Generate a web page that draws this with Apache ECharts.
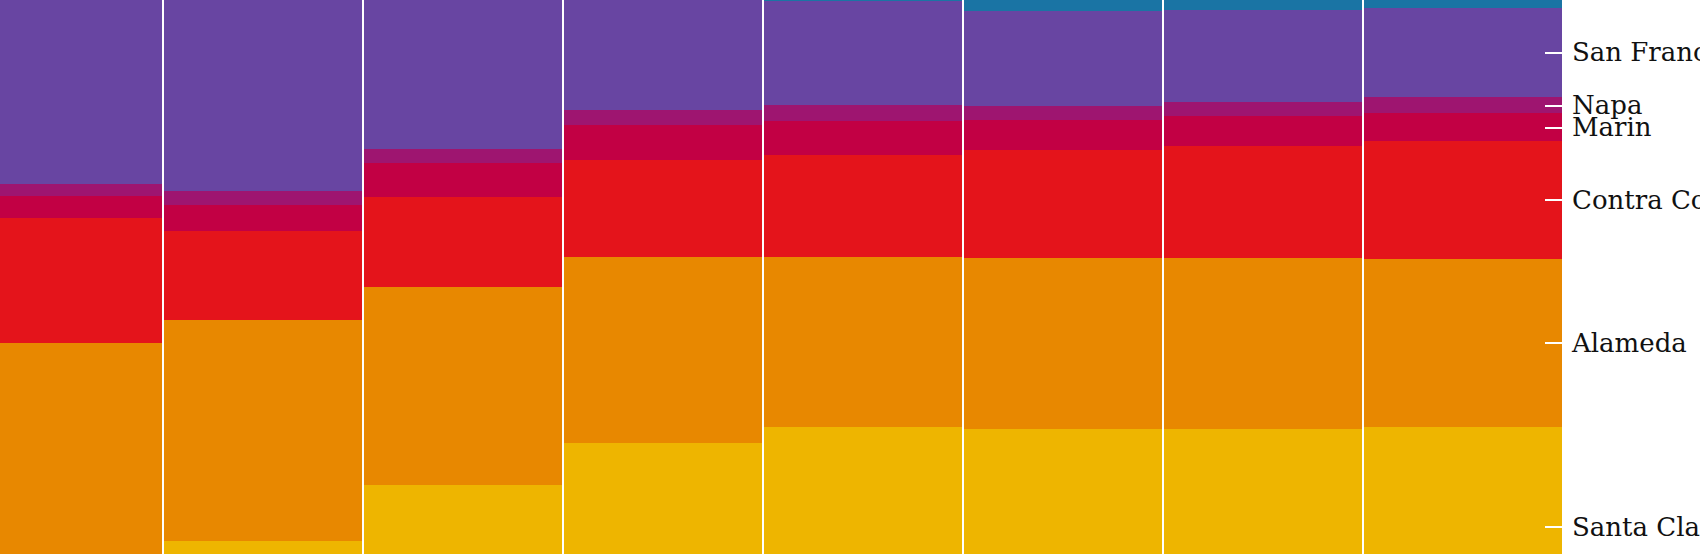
<!DOCTYPE html>
<html>
<head>
<meta charset="utf-8">
<script src="https://cdn.jsdelivr.net/npm/echarts@6/dist/echarts.min.js"></script>
<style>
html,body{margin:0;padding:0;background:#fff;}
#chart{width:1700px;height:554px;}
#chart svg path{shape-rendering:crispEdges;}
</style>
</head>
<body>
<div id="chart"></div>
<script>
// Columns (decades); x axis is outside the visible frame
const categories = ['1940', '1950', '1960', '1970', '1980', '1990', '2000', '2010'];

// Share of population (%) per county, stacked bottom -> top
const santaClara   = [6.0, 10.7, 17.7, 23.0, 25.0, 24.8, 24.8, 25.0];
const alameda      = [29.6, 27.8, 24.9, 23.4, 21.4, 21.4, 21.4, 21.1];
const contraCosta  = [15.6, 11.1, 11.3, 12.1, 12.8, 13.6, 14.1, 14.8];
const marin        = [2.8, 3.3, 4.3, 4.5, 4.3, 3.8, 3.8, 3.5];
const napa         = [1.5, 1.7, 1.7, 1.8, 2.0, 1.7, 1.7, 2.0];
const sanFrancisco = [38.0, 28.9, 20.3, 15.5, 13.0, 12.0, 11.6, 11.3];
const sanMateo     = [5.0, 8.8, 12.2, 12.0, 11.3, 10.8, 10.4, 10.1];

const seriesNames = ['Santa Clara', 'Alameda', 'Contra Costa', 'Marin', 'Napa', 'San Francisco', 'San Mateo'];
const seriesData  = [santaClara, alameda, contraCosta, marin, napa, sanFrancisco, sanMateo];
const colors      = ['#EEB500', '#E88800', '#E4141B', '#C20044', '#9E1570', '#6845A2', '#1A74A4'];

// Right-hand labels (one per county visible in the frame)
const tickLabels = ['Santa Clara', 'Alameda', 'Contra Costa', 'Marin', 'Napa', 'San Francisco'];

// label positions: middle of each segment in the last column
const last = categories.length - 1;
const mids = [];
let acc = 0;
for (let i = 0; i < seriesData.length; i++) {
  const v = seriesData[i][last];
  if (tickLabels.indexOf(seriesNames[i]) >= 0) mids.push({ v: acc + v / 2, name: seriesNames[i] });
  acc += v;
}
const midValues = mids.map(m => m.v);

const chart = echarts.init(document.getElementById('chart'), null, { renderer: 'svg' });
chart.setOption({
  animation: false,
  backgroundColor: '#ffffff',
  grid: { left: -37, right: 137, top: -170, bottom: -72, containLabel: false, outerBoundsMode: 'none' },
  xAxis: { type: 'category', data: categories, show: false },
  yAxis: {
    type: 'value', position: 'right', min: 0, max: 100, z: 10,
    axisLine: { show: false },
    splitLine: { show: false },
    axisTick: { show: true, inside: true, length: 18, customValues: midValues,
                lineStyle: { color: '#ffffff', width: 2 } },
    axisLabel: {
      show: true, customValues: midValues, margin: 9,
      showMinLabel: true, showMaxLabel: true, hideOverlap: false,
      color: '#111111', fontFamily: 'DejaVu Serif', fontSize: 26,
      padding: [10, 0, 0, 0],
      formatter: function (val) {
        let best = mids[0], d = Infinity;
        mids.forEach(m => { const dd = Math.abs(m.v - val); if (dd < d) { d = dd; best = m; } });
        return best.name;
      }
    }
  },
  series: seriesNames.map((n, i) => ({
    name: n, type: 'bar', stack: 'total', data: seriesData[i],
    barCategoryGap: '1%',
    itemStyle: { color: colors[i] },
    emphasis: { disabled: true }
  }))
});
</script>
</body>
</html>
